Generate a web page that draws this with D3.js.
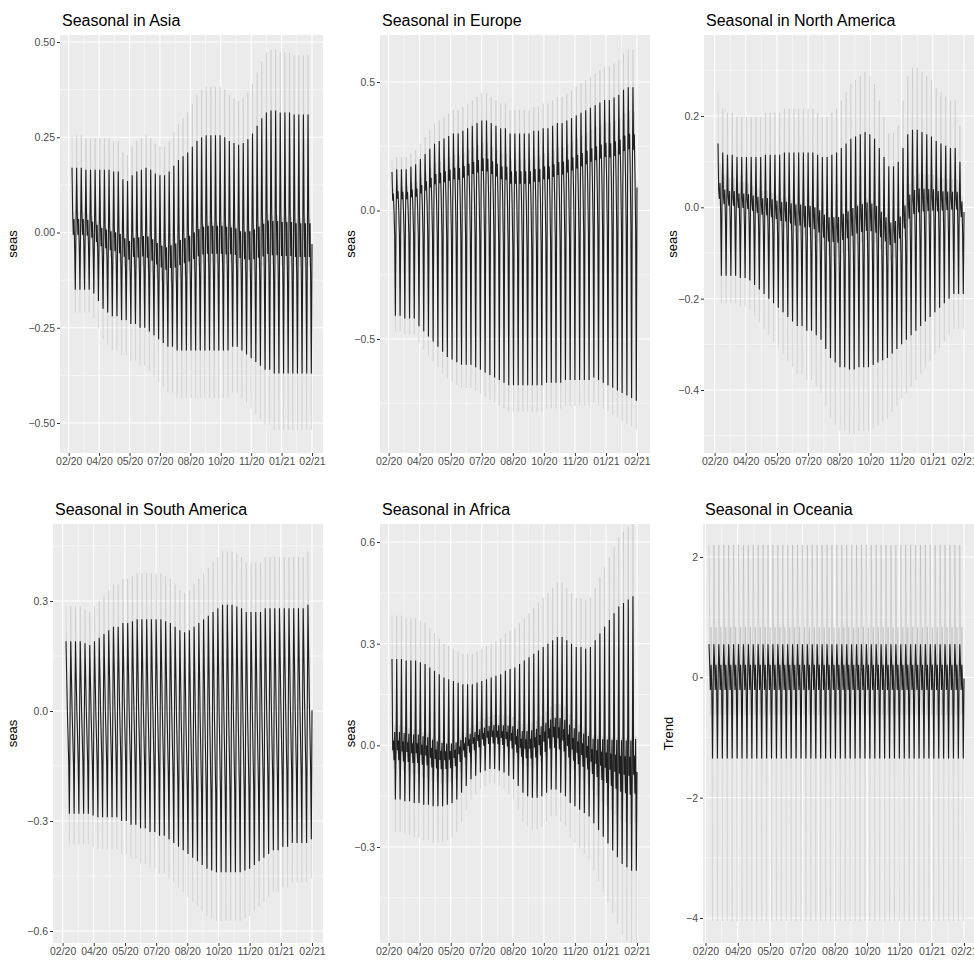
<!DOCTYPE html>
<html>
<head>
<meta charset="utf-8">
<script src="https://cdn.jsdelivr.net/npm/d3@7"></script>
<style>
  body { margin: 0; background: #fff; }
  text { font-family: "Liberation Sans", Arial, sans-serif; }
</style>
</head>
<body>
<svg id="chart" width="974" height="960"></svg>
<script>
// weekly peaks (black line), 52 weeks from 28 Feb 2020
const asiaHi = [0.17,0.17,0.17,0.165,0.165,0.165,0.165,0.165,0.165,0.16,0.16,0.14,0.135,0.15,0.16,0.165,0.17,0.165,0.155,0.15,0.15,0.16,0.175,0.19,0.2,0.21,0.225,0.24,0.25,0.255,0.255,0.255,0.255,0.25,0.24,0.235,0.23,0.235,0.245,0.26,0.28,0.3,0.315,0.32,0.32,0.315,0.315,0.315,0.31,0.31,0.31,0.31];
const asiaLo = [-0.15,-0.15,-0.15,-0.15,-0.16,-0.18,-0.2,-0.21,-0.22,-0.22,-0.23,-0.23,-0.24,-0.24,-0.25,-0.25,-0.26,-0.27,-0.28,-0.29,-0.3,-0.3,-0.31,-0.31,-0.31,-0.31,-0.31,-0.31,-0.31,-0.31,-0.31,-0.31,-0.31,-0.31,-0.3,-0.3,-0.31,-0.32,-0.33,-0.34,-0.35,-0.36,-0.36,-0.37,-0.37,-0.37,-0.37,-0.37,-0.37,-0.37,-0.37,-0.37];
const europeHi = [0.15,0.16,0.16,0.16,0.17,0.18,0.2,0.22,0.24,0.26,0.27,0.28,0.29,0.3,0.3,0.31,0.32,0.33,0.34,0.35,0.35,0.34,0.33,0.32,0.32,0.3,0.3,0.3,0.3,0.3,0.31,0.31,0.32,0.32,0.33,0.34,0.34,0.35,0.36,0.37,0.38,0.39,0.4,0.41,0.42,0.43,0.43,0.44,0.45,0.47,0.48,0.48];
const europeLo = [-0.41,-0.41,-0.42,-0.42,-0.42,-0.45,-0.47,-0.49,-0.51,-0.53,-0.55,-0.57,-0.58,-0.59,-0.6,-0.6,-0.6,-0.61,-0.62,-0.63,-0.64,-0.65,-0.66,-0.67,-0.68,-0.68,-0.68,-0.68,-0.68,-0.68,-0.68,-0.68,-0.67,-0.67,-0.67,-0.67,-0.66,-0.66,-0.66,-0.66,-0.66,-0.66,-0.65,-0.66,-0.67,-0.68,-0.69,-0.7,-0.71,-0.72,-0.73,-0.74];
const namericaHi = [0.14,0.12,0.115,0.115,0.11,0.11,0.11,0.11,0.11,0.11,0.115,0.115,0.115,0.115,0.12,0.12,0.12,0.12,0.12,0.12,0.12,0.115,0.11,0.11,0.115,0.12,0.13,0.14,0.15,0.155,0.16,0.165,0.16,0.15,0.13,0.11,0.09,0.09,0.1,0.13,0.16,0.17,0.17,0.165,0.16,0.155,0.145,0.14,0.135,0.13,0.13,0.1];
const namericaLo = [-0.15,-0.15,-0.15,-0.15,-0.155,-0.155,-0.16,-0.17,-0.18,-0.19,-0.2,-0.21,-0.22,-0.23,-0.24,-0.25,-0.26,-0.26,-0.27,-0.27,-0.28,-0.29,-0.31,-0.33,-0.34,-0.35,-0.35,-0.355,-0.355,-0.35,-0.35,-0.35,-0.345,-0.34,-0.335,-0.33,-0.32,-0.31,-0.3,-0.29,-0.28,-0.27,-0.26,-0.25,-0.24,-0.23,-0.22,-0.21,-0.2,-0.19,-0.19,-0.19];
const samericaHi = [0.19,0.19,0.19,0.19,0.185,0.18,0.19,0.2,0.21,0.22,0.23,0.23,0.24,0.24,0.245,0.25,0.25,0.25,0.25,0.25,0.25,0.245,0.24,0.23,0.22,0.215,0.22,0.23,0.24,0.25,0.26,0.27,0.28,0.29,0.29,0.29,0.285,0.28,0.27,0.27,0.27,0.27,0.28,0.28,0.28,0.28,0.28,0.28,0.28,0.28,0.28,0.29];
const samericaLo = [-0.28,-0.28,-0.28,-0.28,-0.28,-0.285,-0.29,-0.29,-0.29,-0.29,-0.29,-0.3,-0.3,-0.31,-0.31,-0.32,-0.32,-0.33,-0.33,-0.34,-0.34,-0.35,-0.36,-0.37,-0.38,-0.39,-0.4,-0.41,-0.42,-0.43,-0.435,-0.44,-0.44,-0.44,-0.44,-0.44,-0.44,-0.435,-0.43,-0.42,-0.41,-0.4,-0.39,-0.38,-0.38,-0.37,-0.37,-0.36,-0.36,-0.36,-0.36,-0.35];
const africaHi = [0.255,0.255,0.255,0.25,0.25,0.25,0.245,0.24,0.23,0.22,0.21,0.2,0.195,0.19,0.185,0.18,0.18,0.18,0.185,0.19,0.195,0.2,0.205,0.21,0.22,0.225,0.23,0.24,0.25,0.26,0.27,0.28,0.29,0.3,0.31,0.32,0.32,0.31,0.3,0.29,0.29,0.285,0.29,0.31,0.33,0.35,0.37,0.39,0.41,0.42,0.43,0.44];
const africaLo = [-0.16,-0.16,-0.165,-0.165,-0.17,-0.17,-0.175,-0.175,-0.18,-0.18,-0.18,-0.175,-0.17,-0.16,-0.14,-0.12,-0.1,-0.09,-0.08,-0.075,-0.07,-0.07,-0.075,-0.08,-0.09,-0.1,-0.12,-0.14,-0.15,-0.155,-0.155,-0.15,-0.14,-0.13,-0.13,-0.14,-0.15,-0.17,-0.18,-0.19,-0.2,-0.21,-0.23,-0.25,-0.27,-0.29,-0.31,-0.33,-0.35,-0.36,-0.37,-0.37];
const oceaniaHi = [0.55,0.55,0.55,0.55,0.55,0.55,0.55,0.55,0.55,0.55,0.55,0.55,0.55,0.55,0.55,0.55,0.55,0.55,0.55,0.55,0.55,0.55,0.55,0.55,0.55,0.55,0.55,0.55,0.55,0.55,0.55,0.55,0.55,0.55,0.55,0.55,0.55,0.55,0.55,0.55,0.55,0.55,0.55,0.55,0.55,0.55,0.55,0.55,0.55,0.55,0.55,0.55];
const oceaniaLo = [-1.35,-1.35,-1.35,-1.35,-1.35,-1.35,-1.35,-1.35,-1.35,-1.35,-1.35,-1.35,-1.35,-1.35,-1.35,-1.35,-1.35,-1.35,-1.35,-1.35,-1.35,-1.35,-1.35,-1.35,-1.35,-1.35,-1.35,-1.35,-1.35,-1.35,-1.35,-1.35,-1.35,-1.35,-1.35,-1.35,-1.35,-1.35,-1.35,-1.35,-1.35,-1.35,-1.35,-1.35,-1.35,-1.35,-1.35,-1.35,-1.35,-1.35,-1.35,-1.35];

// position of each weekday between the week's low (0) and high (1)
const asiaWeek = [1, 0.62, 0.45, 0.58, 0.35, 0, 0.5];
const europeWeek = [1, 0.8, 0.85, 0.72, 0.55, 0, 0.68];
const namericaWeek = [1, 0.65, 0.58, 0.7, 0.45, 0, 0.62];
const samericaWeek = [1, 0.8, 0.6, 0.45, 0.3, 0, 0.55];
const africaWeek = [1, 0.35, 0.42, 0.28, 0.48, 0, 0.36];
const oceaniaWeek = [1, 0.82, 0.6, 0.82, 0.6, 0, 0.7];

// interval lines (grey): stretch of positive / negative values
const bandUp = [1.5, 1.3, 1.8, 1.5, 1.5, 4];
const bandDn = [1.4, 1.15, 1.4, 1.3, 1.6, 3];

const titles = ["Seasonal in Asia", "Seasonal in Europe", "Seasonal in North America",
  "Seasonal in South America", "Seasonal in Africa", "Seasonal in Oceania"];
const yTitles = ["seas", "seas", "seas", "seas", "seas", "Trend"];
const yTicks = [[-0.5, -0.25, 0, 0.25, 0.5], [-0.5, 0, 0.5], [-0.4, -0.2, 0, 0.2],
  [-0.6, -0.3, 0, 0.3], [-0.3, 0, 0.3, 0.6], [-4, -2, 0, 2]];
const yFormats = [".2f", ".1f", ".1f", ".1f", ".1f", "d"];
const xTicks = ["2020-02-23","2020-04-09","2020-05-25","2020-07-10","2020-08-25",
  "2020-10-10","2020-11-25","2021-01-10","2021-02-25"];
const startDate = "2020-02-28";

const highs = [asiaHi, europeHi, namericaHi, samericaHi, africaHi, oceaniaHi];
const lows = [asiaLo, europeLo, namericaLo, samericaLo, africaLo, oceaniaLo];
const weeks = [asiaWeek, europeWeek, namericaWeek, samericaWeek, africaWeek, oceaniaWeek];

// layout: panel rect, data x span, two y calibration points
const panels = [
  {L: 60, R: 323, T: 35, B: 453, x0: 72, x1: 312, yv: [0.5, -0.5], yp: [42, 423], labX: 12},
  {L: 380, R: 650, T: 35, B: 453, x0: 392, x1: 637, yv: [0.5, -0.5], yp: [82, 339], labX: 350},
  {L: 704, R: 976, T: 35, B: 453, x0: 718, x1: 964, yv: [0.2, -0.4], yp: [116, 390], labX: 672},
  {L: 53, R: 323, T: 524, B: 943, x0: 66, x1: 312, yv: [0.3, -0.6], yp: [601, 931], labX: 12},
  {L: 380, R: 650, T: 524, B: 943, x0: 392, x1: 637, yv: [0.6, -0.3], yp: [542, 847], labX: 350},
  {L: 703, R: 976, T: 524, B: 943, x0: 709, x1: 964, yv: [2, -4], yp: [557, 918], labX: 668}
];

const svg = d3.select("#chart");
const parse = d3.timeParse("%Y-%m-%d");
const fmt = d3.timeFormat("%m/%y");
const t0 = parse(startDate);

panels.forEach((p, k) => {
  const hi = highs[k], lo = lows[k], wk = weeks[k];
  const series = [];
  hi.forEach((h, w) => {
    wk.forEach((f, d) => {
      series.push({date: d3.timeDay.offset(t0, w * 7 + d), v: lo[w] + f * (h - lo[w])});
    });
  });
  const x = d3.scaleTime().domain(d3.extent(series, d => d.date)).range([p.x0, p.x1]);
  const y = d3.scaleLinear().domain(p.yv).range(p.yp);
  const g = svg.append("g");
  const clip = "clip" + k;
  g.append("clipPath").attr("id", clip).append("rect")
    .attr("x", p.L).attr("y", p.T).attr("width", p.R - p.L).attr("height", p.B - p.T);
  g.append("rect").attr("x", p.L).attr("y", p.T).attr("width", p.R - p.L).attr("height", p.B - p.T)
    .attr("fill", "#ebebeb");

  const inner = g.append("g").attr("clip-path", `url(#${clip})`);
  const xt = xTicks.map(parse);
  const yt = yTicks[k];
  const step = yt[1] - yt[0];
  const yMinor = yt.map(v => v - step / 2).concat([yt[yt.length - 1] + step / 2]);
  const xMinor = xt.slice(1).map((d, i) => new Date((+d + +xt[i]) / 2))
    .concat([new Date(+xt[0] - (xt[1] - xt[0]) / 2), new Date(+xt[8] + (xt[1] - xt[0]) / 2)]);
  inner.selectAll(".ym").data(yMinor).join("line")
    .attr("x1", p.L).attr("x2", p.R).attr("y1", d => y(d)).attr("y2", d => y(d))
    .attr("stroke", "#fff").attr("stroke-width", 0.5);
  inner.selectAll(".xm").data(xMinor).join("line")
    .attr("y1", p.T).attr("y2", p.B).attr("x1", d => x(d)).attr("x2", d => x(d))
    .attr("stroke", "#fff").attr("stroke-width", 0.5);
  inner.selectAll(".yM").data(yt).join("line")
    .attr("x1", p.L).attr("x2", p.R).attr("y1", d => y(d)).attr("y2", d => y(d))
    .attr("stroke", "#fff").attr("stroke-width", 1.1);
  inner.selectAll(".xM").data(xt).join("line")
    .attr("y1", p.T).attr("y2", p.B).attr("x1", d => x(d)).attr("x2", d => x(d))
    .attr("stroke", "#fff").attr("stroke-width", 1.1);

  const lineUp = d3.line().x(d => x(d.date)).y(d => y(d.v > 0 ? d.v * bandUp[k] : d.v));
  const lineDn = d3.line().x(d => x(d.date)).y(d => y(d.v < 0 ? d.v * bandDn[k] : d.v));
  const line = d3.line().x(d => x(d.date)).y(d => y(d.v));
  inner.append("path").attr("d", lineDn(series)).attr("fill", "none")
    .attr("stroke", "#c4c4c4").attr("stroke-opacity", 0.6).attr("stroke-width", 0.6);
  inner.append("path").attr("d", lineUp(series)).attr("fill", "none")
    .attr("stroke", k === 5 ? "#a8a8a8" : "#bdbdbd").attr("stroke-opacity", 0.7).attr("stroke-width", 0.6);
  inner.append("path").attr("d", line(series)).attr("fill", "none")
    .attr("stroke", "#000").attr("stroke-opacity", 0.85).attr("stroke-width", 1.1);

  const xAxis = d3.axisBottom(x).tickValues(xt).tickFormat(fmt).tickSize(3).tickPadding(2);
  const ax = g.append("g").attr("transform", `translate(0,${p.B})`).call(xAxis);
  const yAxis = d3.axisLeft(y).tickValues(yt).tickFormat(d3.format(yFormats[k])).tickSize(3).tickPadding(2);
  const ay = g.append("g").attr("transform", `translate(${p.L},0)`).call(yAxis);
  [ax, ay].forEach(a => {
    a.select(".domain").remove();
    a.selectAll(".tick line").attr("stroke", "#333");
    a.selectAll(".tick text").attr("fill", "#4d4d4d").style("font-size", "10.5px");
  });

  g.append("text").attr("x", p.L + 2).attr("y", p.T - 9).text(titles[k])
    .style("font-size", "16px").attr("fill", "#000");
  g.append("text").attr("transform", `translate(${p.labX + 5},${(p.T + p.B) / 2}) rotate(-90)`)
    .attr("text-anchor", "middle").text(yTitles[k]).style("font-size", "13px");
});
</script>
</body>
</html>
